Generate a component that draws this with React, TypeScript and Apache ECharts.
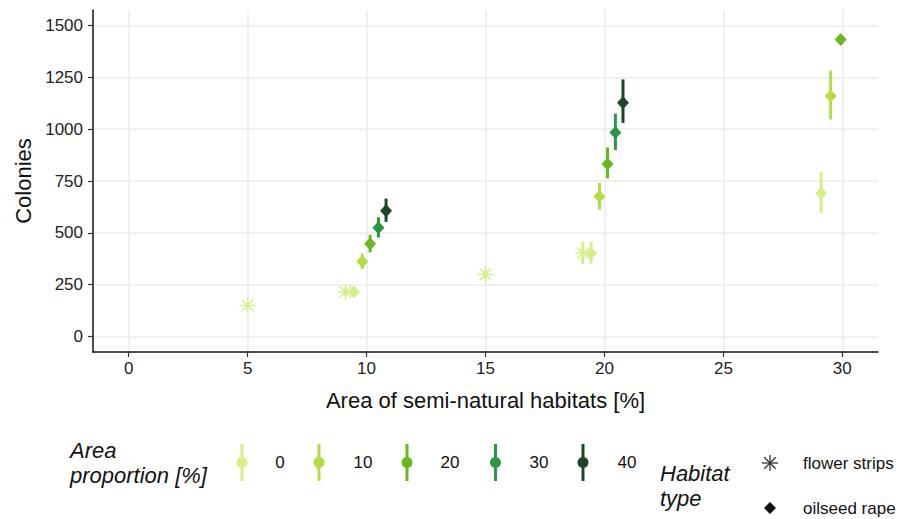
import React, { useEffect, useRef } from "react";
import * as echarts from "echarts";

// ---- data ----
const xValues = [5, 9.11, 9.47, 9.82, 10.15, 10.5, 10.82, 15, 19.09, 19.44, 19.79, 20.13, 20.46, 20.78, 29.11, 29.51, 29.93];
const colonies = [150, 215, 215, 362, 447, 525, 607, 300, 402, 402, 675, 832, 984, 1128, 691, 1160, 1433];
const lowerCI = [150, 198, 198, 325, 405, 478, 553, 282, 350, 352, 612, 763, 899, 1030, 597, 1047, 1433];
const upperCI = [150, 232, 232, 400, 490, 575, 665, 322, 458, 455, 740, 912, 1075, 1240, 792, 1283, 1433];
const areaProportion = [0, 0, 0, 10, 20, 30, 40, 0, 0, 0, 10, 20, 30, 40, 0, 10, 20];
const habitatType = [
  "flower strips", "flower strips", "oilseed rape", "oilseed rape", "oilseed rape", "oilseed rape", "oilseed rape",
  "flower strips", "flower strips", "oilseed rape", "oilseed rape", "oilseed rape", "oilseed rape", "oilseed rape",
  "oilseed rape", "oilseed rape", "oilseed rape",
];

const proportionLevels = [0, 10, 20, 30, 40];
const proportionColors = ["#d6ee86", "#b2dd46", "#68b81e", "#2d9546", "#1c4726"];
const habitatLevels = ["flower strips", "oilseed rape"];

const xTicks = [0, 5, 10, 15, 20, 25, 30];
const yTicks = [0, 250, 500, 750, 1000, 1250, 1500];

const FONT = "'Liberation Sans', Arial, Helvetica, sans-serif";

export default function App() {
  const ref = useRef<HTMLDivElement>(null);

  useEffect(() => {
    if (!ref.current) return;
    const chart = echarts.init(ref.current, undefined, { renderer: "svg" });

    const data = xValues.map((x, i) => [
      x,
      colonies[i],
      lowerCI[i],
      upperCI[i],
      proportionLevels.indexOf(areaProportion[i]),
      habitatLevels.indexOf(habitatType[i]),
    ]);

    const asteriskLines = (cx: number, cy: number, r: number, d: number, stroke: string, lw: number) => [
      { type: "line", shape: { x1: cx - r, y1: cy, x2: cx + r, y2: cy }, style: { stroke, lineWidth: lw } },
      { type: "line", shape: { x1: cx, y1: cy - r, x2: cx, y2: cy + r }, style: { stroke, lineWidth: lw } },
      { type: "line", shape: { x1: cx - d, y1: cy - d, x2: cx + d, y2: cy + d }, style: { stroke, lineWidth: lw } },
      { type: "line", shape: { x1: cx - d, y1: cy + d, x2: cx + d, y2: cy - d }, style: { stroke, lineWidth: lw } },
    ];

    const legendKeyX = [242, 319, 407, 495.5, 583];
    const legendLabelX = [280, 363, 450, 539, 627];

    const graphics: any[] = [
      { type: "text", left: 70, top: 439, style: { text: "Area", font: `italic 22px ${FONT}`, fill: "#111" } },
      { type: "text", left: 70, top: 464, style: { text: "proportion [%]", font: `italic 22px ${FONT}`, fill: "#111" } },
      { type: "text", left: 660, top: 462, style: { text: "Habitat", font: `italic 22px ${FONT}`, fill: "#111" } },
      { type: "text", left: 660, top: 487, style: { text: "type", font: `italic 22px ${FONT}`, fill: "#111" } },
    ];
    proportionLevels.forEach((lv, i) => {
      graphics.push({
        type: "line",
        shape: { x1: legendKeyX[i], y1: 444, x2: legendKeyX[i], y2: 481 },
        style: { stroke: proportionColors[i], lineWidth: 3 },
      });
      graphics.push({
        type: "circle",
        shape: { cx: legendKeyX[i], cy: 462.5, r: 5.5 },
        style: { fill: proportionColors[i] },
      });
      graphics.push({
        type: "text",
        x: legendLabelX[i],
        y: 462.5,
        style: { text: String(lv), font: `17px ${FONT}`, fill: "#111", align: "center", verticalAlign: "middle" },
      });
    });
    graphics.push({
      type: "group",
      children: asteriskLines(770, 463, 8, 5.7, "#333", 1.3),
    });
    graphics.push({
      type: "polygon",
      shape: { points: [[770, 502], [776, 508], [770, 514], [764, 508]] },
      style: { fill: "#111" },
    });
    graphics.push({
      type: "text", x: 803, y: 463,
      style: { text: habitatLevels[0], font: `17px ${FONT}`, fill: "#111", verticalAlign: "middle" },
    });
    graphics.push({
      type: "text", x: 803, y: 508,
      style: { text: habitatLevels[1], font: `17px ${FONT}`, fill: "#111", verticalAlign: "middle" },
    });

    const option: any = {
      animation: false,
      backgroundColor: "#ffffff",
      grid: { left: 93, right: 26, top: 10, bottom: 167, containLabel: false },
      xAxis: {
        type: "value",
        min: -1.5,
        max: 31.5,
        name: "Area of semi-natural habitats [%]",
        nameLocation: "middle",
        nameGap: 37,
        nameTextStyle: { fontFamily: FONT, fontSize: 22, color: "#111" },
        axisLine: { show: true, onZero: false, lineStyle: { color: "#111", width: 1.5 } },
        axisTick: { show: true, length: 5, customValues: xTicks, lineStyle: { color: "#333", width: 1.2 } },
        axisLabel: {
          customValues: xTicks,
          formatter: (v: number) => String(v),
          fontFamily: FONT,
          fontSize: 17,
          color: "#222",
          margin: 8,
        },
        splitLine: { show: true, lineStyle: { color: "#ebebeb", width: 1.5 } },
      },
      yAxis: {
        type: "value",
        min: -75,
        max: 1575,
        name: "Colonies",
        nameLocation: "middle",
        nameGap: 56,
        nameTextStyle: { fontFamily: FONT, fontSize: 22, color: "#111" },
        axisLine: { show: true, onZero: false, lineStyle: { color: "#111", width: 1.5 } },
        axisTick: { show: true, length: 5, customValues: yTicks, lineStyle: { color: "#333", width: 1.2 } },
        axisLabel: {
          customValues: yTicks,
          formatter: (v: number) => String(v),
          fontFamily: FONT,
          fontSize: 17,
          color: "#222",
          margin: 10,
        },
        splitLine: { show: true, lineStyle: { color: "#ebebeb", width: 1.5 } },
      },
      series: [
        {
          type: "custom",
          coordinateSystem: "cartesian2d",
          encode: { x: 0, y: 1 },
          data,
          renderItem: (params: any, api: any) => {
            const x = api.value(0);
            const y = api.value(1);
            const lo = api.value(2);
            const hi = api.value(3);
            const color = proportionColors[api.value(4)];
            const h = api.value(5);
            const c = api.coord([x, y]);
            const cl = api.coord([x, lo]);
            const ch = api.coord([x, hi]);
            const children: any[] = [];
            if (hi > lo) {
              children.push({
                type: "line",
                shape: { x1: c[0], y1: cl[1], x2: c[0], y2: ch[1] },
                style: { stroke: color, lineWidth: 3 },
              });
            }
            if (h === 0) {
              children.push(...asteriskLines(c[0], c[1], 8, 5.7, color, 1.4));
            } else {
              children.push({
                type: "polygon",
                shape: { points: [[c[0], c[1] - 6.5], [c[0] + 6, c[1]], [c[0], c[1] + 6.5], [c[0] - 6, c[1]]] },
                style: { fill: color },
              });
            }
            return { type: "group", children };
          },
        },
      ],
      graphic: graphics,
    };

    chart.setOption(option);
    return () => chart.dispose();
  }, []);

  return (
    <div
      ref={ref}
      style={{ position: "fixed", left: 0, top: 0, width: 904, height: 519, background: "#fff" }}
    />
  );
}
